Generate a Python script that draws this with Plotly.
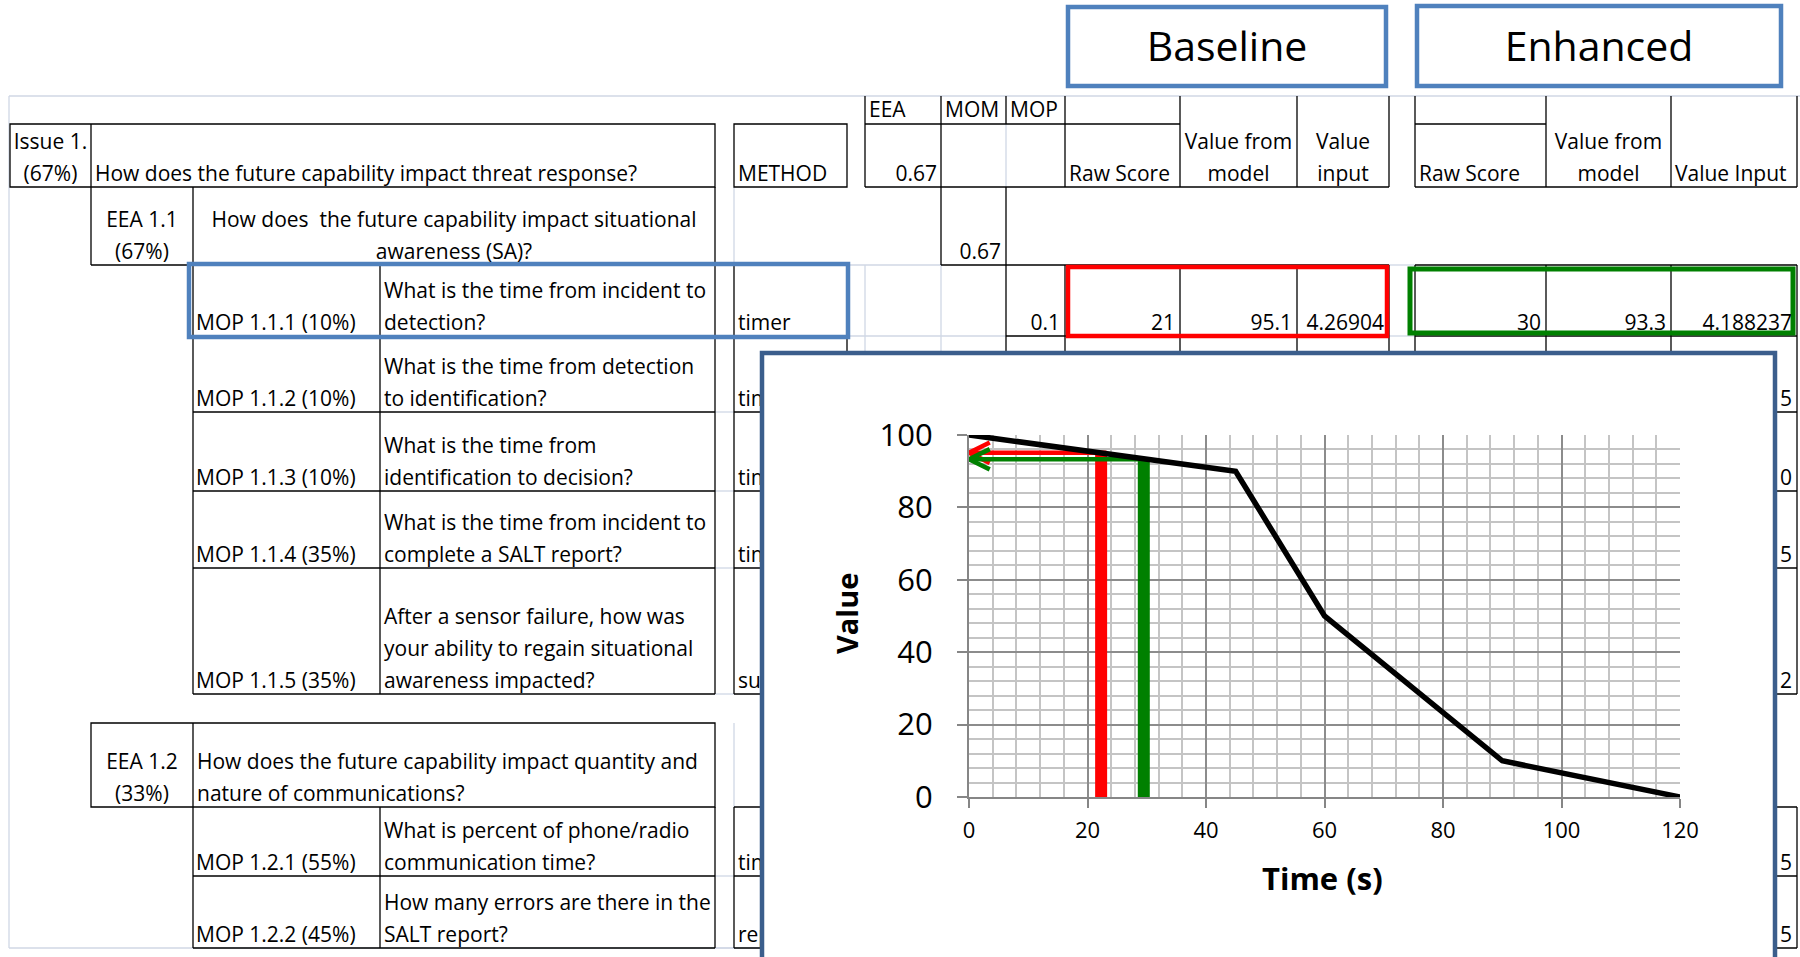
import plotly.graph_objects as go

W, H = 1800, 957

# ---------------- data ----------------
PANEL_TITLES = ["Baseline", "Enhanced"]
ISSUE_LABEL = ["Issue 1.", "(67%)"]
ISSUE_QUESTION = "How does the future capability impact threat response?"
METHOD_HEADER = "METHOD"
EEA_LABELS = [["EEA 1.1", "(67%)"], ["EEA 1.2", "(33%)"]]
EEA_QUESTIONS = [["How does  the future capability impact situational", "awareness (SA)?"],
                 ["How does the future capability impact quantity and", "nature of communications?"]]
MOP_LABELS = ["MOP 1.1.1 (10%)", "MOP 1.1.2 (10%)", "MOP 1.1.3 (10%)", "MOP 1.1.4 (35%)",
              "MOP 1.1.5 (35%)", "MOP 1.2.1 (55%)", "MOP 1.2.2 (45%)"]
MOP_QUESTIONS = [
    ["What is the time from incident to", "detection?"],
    ["What is the time from detection", "to identification?"],
    ["What is the time from", "identification to decision?"],
    ["What is the time from incident to", "complete a SALT report?"],
    ["After a sensor failure, how was", "your ability to regain situational", "awareness impacted?"],
    ["What is percent of phone/radio", "communication time?"],
    ["How many errors are there in the", "SALT report?"],
]
MOP_METHODS = ["timer", "timer", "timer", "timer", "survey", "timer", "report"]
WEIGHT_HEADERS = ["EEA", "MOM", "MOP"]
EEA_WEIGHT = "0.67"
MOM_WEIGHT = "0.67"
MOP_WEIGHT = "0.1"
BASE_HEADERS = [["", "Raw Score"], ["Value from", "model"], ["Value", "input"]]
ENH_HEADERS = [["", "Raw Score"], ["Value from", "model"], ["", "Value Input"]]
BASELINE_ROW = ["21", "95.1", "4.26904"]
ENHANCED_ROW = ["30", "93.3", "4.188237"]
ENHANCED_INPUT_TAILS = ["5", "0", "5", "2", "5", "5"]

TIME_S = [0, 45, 60, 90, 120]
VALUE = [100, 90, 50, 10, 0]
MARKER_TIME = [22.3, 29.5]
MARKER_VALUE = [95.1, 93.3]
MARKER_COLORS = ["#FF0000", "#008000"]
X_TICKS = [0, 20, 40, 60, 80, 100, 120]
Y_TICKS = [0, 20, 40, 60, 80, 100]
X_TITLE = "Time (s)"
Y_TITLE = "Value"

# ---------------- layout geometry (pixels) ----------------
FONT = "Open Sans"
FS = 21
LINE = 32
DARK = "#000000"
LIGHT = "#D0D7E5"
BLUE = "#4F81BD"
INSET_BLUE = "#3B5E8C"

# columns
X_FRAME = 9
X_ISS, X_EEA, X_MOPL, X_Q, X_QR = 10, 91, 193, 380, 715
X_ML, X_MR = 734, 847
X_EEAW, X_MOMW, X_MOPW = 865, 941, 1006
B_COLS = [1065, 1180, 1297, 1389]
E_COLS = [1415, 1546, 1671, 1797]
# rows
Y_TOP, Y_SUB, Y_HDR, Y_EEA1 = 96, 124, 187, 265
MOP_TOPS = [265, 336, 412, 491, 568, 807, 876]
MOP_BOTS = [336, 412, 491, 568, 694, 876, 948]
Y_EEA2_TOP, Y_EEA2_BOT = 723, 807
INSET = dict(x0=762, x1=1775, y0=353)
PLOT = dict(x0=969, x1=1680, y0=435, y1=797)


def line_ys(bottom, n):
    return [bottom - 11.5 - LINE * (n - 1 - i) for i in range(n)]


shapes = []


def seg(x0, y0, x1, y1, color=DARK, width=1.3):
    shapes.append(dict(type="line", xref="x", yref="y", layer="below",
                       x0=x0, y0=y0, x1=x1, y1=y1, line=dict(color=color, width=width)))


def box(x0, y0, x1, y1, color=DARK, width=1.3):
    shapes.append(dict(type="rect", xref="x", yref="y", layer="below",
                       x0=x0, y0=y0, x1=x1, y1=y1, line=dict(color=color, width=width),
                       fillcolor="rgba(0,0,0,0)"))


# light spreadsheet gridlines
seg(X_FRAME, Y_TOP, W, Y_TOP, LIGHT)
seg(X_FRAME, Y_TOP, X_FRAME, 948, LIGHT)
seg(X_FRAME, 948, 760, 948, LIGHT)
seg(X_ML, Y_HDR, X_ML, Y_EEA1, LIGHT)
seg(X_ML, Y_EEA2_TOP, X_ML, Y_EEA2_BOT, LIGHT)
for yb in MOP_BOTS + [Y_EEA1]:
    seg(X_QR, yb, X_ML, yb, LIGHT)
seg(X_EEAW, Y_EEA1, X_EEAW, INSET["y0"], LIGHT)
seg(X_MOMW, Y_EEA1, X_MOMW, INSET["y0"], LIGHT)
seg(X_MR, Y_EEA1, X_MOMW, Y_EEA1, LIGHT)
seg(X_MR, MOP_BOTS[0], X_MOPW, MOP_BOTS[0], LIGHT)
seg(X_MOPW, Y_SUB, X_MOPW, Y_HDR, LIGHT)
seg(B_COLS[-1], Y_EEA1, E_COLS[0], Y_EEA1, LIGHT)
seg(B_COLS[-1], MOP_BOTS[0], E_COLS[0], MOP_BOTS[0], LIGHT)

# left block borders
box(X_ISS, Y_SUB, X_QR, Y_HDR)
seg(X_EEA, Y_SUB, X_EEA, Y_EEA1)
seg(X_EEA, Y_EEA1, X_QR, Y_EEA1)
seg(X_MOPL, Y_HDR, X_MOPL, MOP_BOTS[4])
seg(X_QR, Y_HDR, X_QR, MOP_BOTS[4])
seg(X_Q, MOP_TOPS[0], X_Q, MOP_BOTS[4])
for yb in MOP_BOTS[:5]:
    seg(X_MOPL, yb, X_QR, yb)
box(X_EEA, Y_EEA2_TOP, X_QR, Y_EEA2_BOT)
seg(X_MOPL, Y_EEA2_TOP, X_MOPL, MOP_BOTS[6])
seg(X_QR, Y_EEA2_BOT, X_QR, MOP_BOTS[6])
seg(X_Q, MOP_TOPS[5], X_Q, MOP_BOTS[6])
for yb in MOP_BOTS[5:]:
    seg(X_MOPL, yb, X_QR, yb)

# method column
box(X_ML, Y_SUB, X_MR, Y_HDR)
for (ya, yb) in [(MOP_TOPS[0], MOP_BOTS[4]), (MOP_TOPS[5], MOP_BOTS[6])]:
    seg(X_ML, ya, X_ML, yb)
    seg(X_MR, ya, X_MR, yb)
for yb in [MOP_TOPS[0]] + MOP_BOTS[:5] + [MOP_TOPS[5]] + MOP_BOTS[5:]:
    seg(X_ML, yb, X_MR, yb)

# weights + score blocks
seg(X_EEAW, Y_TOP, X_EEAW, Y_HDR)
seg(X_MOMW, Y_TOP, X_MOMW, Y_EEA1)
seg(X_MOPW, Y_TOP, X_MOPW, Y_SUB)
seg(X_MOPW, Y_HDR, X_MOPW, Y_EEA1)
seg(X_EEAW, Y_SUB, B_COLS[1], Y_SUB)
seg(X_EEAW, Y_HDR, B_COLS[-1], Y_HDR)
seg(X_MOMW, Y_EEA1, X_MOPW, Y_EEA1)
seg(E_COLS[0], Y_SUB, E_COLS[1], Y_SUB)
seg(E_COLS[0], Y_HDR, E_COLS[-1], Y_HDR)
right_cols = [X_MOPW] + B_COLS
for cols in (right_cols, E_COLS):
    for xc in cols:
        if xc != X_MOPW:
            seg(xc, Y_TOP, xc, Y_HDR)
        seg(xc, MOP_TOPS[0], xc, MOP_BOTS[4])
        seg(xc, MOP_TOPS[5], xc, MOP_BOTS[6])
    for yb in [MOP_TOPS[0]] + MOP_BOTS[:5] + [MOP_TOPS[5]] + MOP_BOTS[5:]:
        seg(cols[0], yb, cols[-1], yb)

# highlight boxes
box(189, 264, 848, 337, BLUE, 4.5)
box(1068, 267, 1387, 336, "#FF0000", 4.5)
box(1410, 269, 1793, 333, "#008000", 5)
box(1068, 7, 1386, 86, BLUE, 4.5)
box(1417, 6, 1781, 86, BLUE, 4.5)

# inset frame (on top of everything)
shapes.append(dict(type="rect", xref="paper", yref="paper", layer="above",
                   x0=INSET["x0"] / W, x1=INSET["x1"] / W, y0=-0.05, y1=1 - INSET["y0"] / H,
                   line=dict(color=INSET_BLUE, width=4.5), fillcolor="rgba(0,0,0,0)"))

# ---------------- table text ----------------
txt = {"middle right": ([], [], []), "middle left": ([], [], []), "middle center": ([], [], [])}


def put(pos, x, y, s):
    if s:
        txt[pos][0].append(x)
        txt[pos][1].append(y)
        txt[pos][2].append(s)


for s, y in zip(ISSUE_LABEL, line_ys(Y_HDR, 2)):
    put("middle center", (X_ISS + X_EEA) / 2, y, s)
put("middle right", X_EEA + 4, line_ys(Y_HDR, 1)[0], ISSUE_QUESTION)
put("middle right", X_ML + 4, line_ys(Y_HDR, 1)[0], METHOD_HEADER)

eea_rows = [(Y_HDR, Y_EEA1), (Y_EEA2_TOP, Y_EEA2_BOT)]
for k, (lab, q) in enumerate(zip(EEA_LABELS, EEA_QUESTIONS)):
    bot = eea_rows[k][1]
    for s, y in zip(lab, line_ys(bot, len(lab))):
        put("middle center", (X_EEA + X_MOPL) / 2, y, s)
    for s, y in zip(q, line_ys(bot, len(q))):
        if k == 0:
            put("middle center", (X_MOPL + X_QR) / 2, y, s)
        else:
            put("middle right", X_MOPL + 4, y, s)

for lab, q, m, bot in zip(MOP_LABELS, MOP_QUESTIONS, MOP_METHODS, MOP_BOTS):
    put("middle right", X_MOPL + 3, line_ys(bot, 1)[0], lab)
    for s, y in zip(q, line_ys(bot, len(q))):
        put("middle right", X_Q + 4, y, s)
    put("middle right", X_ML + 4, line_ys(bot, 1)[0], m)

for s, xl in zip(WEIGHT_HEADERS, [X_EEAW, X_MOMW, X_MOPW]):
    put("middle right", xl + 4, (Y_TOP + Y_SUB) / 2 + 2, s)
put("middle left", X_MOMW - 4, line_ys(Y_HDR, 1)[0], EEA_WEIGHT)
put("middle left", X_MOPW - 5, line_ys(Y_EEA1, 1)[0], MOM_WEIGHT)
put("middle left", B_COLS[0] - 5, line_ys(MOP_BOTS[0], 1)[0], MOP_WEIGHT)

for heads, cols in [(BASE_HEADERS, B_COLS), (ENH_HEADERS, E_COLS)]:
    for j, hd in enumerate(heads):
        ys = line_ys(Y_HDR, 2)
        if j == 1 or (j == 2 and hd[0]):
            for s, y in zip(hd, ys):
                put("middle center", (cols[j] + cols[j + 1]) / 2, y, s)
        else:
            put("middle right", cols[j] + 4, ys[1], hd[1])

for row, cols in [(BASELINE_ROW, B_COLS), (ENHANCED_ROW, E_COLS)]:
    for j, s in enumerate(row):
        put("middle left", cols[j + 1] - 5, line_ys(MOP_BOTS[0], 1)[0], s)
for s, bot in zip(ENHANCED_INPUT_TAILS, MOP_BOTS[1:]):
    put("middle left", E_COLS[-1] - 5, line_ys(bot, 1)[0], s)

fig = go.Figure()
for pos, (xs, ys, ss) in txt.items():
    fig.add_trace(go.Scatter(x=xs, y=ys, text=ss, mode="text", textposition=pos,
                             textfont=dict(family=FONT, size=FS, color="#000000"),
                             hoverinfo="skip", showlegend=False, xaxis="x", yaxis="y"))

# panel titles
fig.add_trace(go.Scatter(x=[(1068 + 1386) / 2, (1417 + 1781) / 2], y=[51, 51], text=PANEL_TITLES,
                         mode="text", textposition="middle center",
                         textfont=dict(family=FONT, size=41, color="#000000"),
                         hoverinfo="skip", showlegend=False, xaxis="x", yaxis="y"))

# inset background subplot (opaque, covers the table below it)
fig.add_trace(go.Scatter(x=[None], y=[None], mode="lines", xaxis="x2", yaxis="y2",
                         showlegend=False, hoverinfo="skip"))

# ---------------- chart ----------------
for t, v, c in zip(MARKER_TIME, MARKER_VALUE, MARKER_COLORS):
    fig.add_trace(go.Scatter(x=[t, t], y=[0, v], mode="lines", line=dict(color=c, width=12),
                             xaxis="x3", yaxis="y3", showlegend=False, hoverinfo="skip"))
    hx, hy = 3.5, 2.8
    fig.add_trace(go.Scatter(x=[t + 0.9, 0, None, hx, 0, hx], y=[v, v, None, v + hy, v, v - hy],
                             mode="lines", line=dict(color=c, width=4.5),
                             xaxis="x3", yaxis="y3", showlegend=False, hoverinfo="skip",
                             cliponaxis=False))
fig.add_trace(go.Scatter(x=TIME_S, y=VALUE, mode="lines", line=dict(color="#000000", width=5.5),
                         xaxis="x3", yaxis="y3", showlegend=False, hoverinfo="skip",
                         cliponaxis=False))

hidden = dict(visible=False, showgrid=False, zeroline=False, automargin=False)
fig.update_layout(
    width=W, height=H, margin=dict(l=0, r=0, t=0, b=0, pad=0, autoexpand=False),
    paper_bgcolor="white", plot_bgcolor="white",
    xaxis=dict(domain=[0, 1], range=[0, W], anchor="y", **hidden),
    yaxis=dict(domain=[0, 1], range=[H, 0], anchor="x", **hidden),
    xaxis2=dict(domain=[(INSET["x0"] + 2) / W, (INSET["x1"] - 2) / W], range=[0, 1], anchor="y2", **hidden),
    yaxis2=dict(domain=[0, 1 - (INSET["y0"] + 2) / H], range=[0, 1], anchor="x2", **hidden),
    xaxis3=dict(domain=[PLOT["x0"] / W, PLOT["x1"] / W], range=[0, 120], anchor="y3", automargin=False,
                tickvals=X_TICKS, showgrid=True, gridcolor="#8C8C8C", gridwidth=1.5,
                minor=dict(dtick=4, tick0=0, showgrid=True, gridcolor="#C4C4C4", gridwidth=1.5),
                showline=True, linecolor="#868686", linewidth=2, zeroline=False,
                ticks="outside", ticklen=9, tickwidth=2, tickcolor="#868686",
                tickfont=dict(family=FONT, size=22, color="#000000"), ticklabelstandoff=4),
    yaxis3=dict(domain=[1 - PLOT["y1"] / H, 1 - PLOT["y0"] / H], range=[0, 100], anchor="x3", automargin=False,
                tickvals=Y_TICKS, showgrid=True, gridcolor="#8C8C8C", gridwidth=1.5,
                minor=dict(dtick=4, tick0=0, showgrid=True, gridcolor="#C4C4C4", gridwidth=1.5),
                showline=True, linecolor="#868686", linewidth=2, zeroline=False,
                ticks="outside", ticklen=10, tickwidth=2, tickcolor="#868686",
                tickfont=dict(family=FONT, size=31, color="#000000"), ticklabelstandoff=18),
    shapes=shapes,
    annotations=[
        dict(text=Y_TITLE, xref="paper", yref="paper", x=846 / W, y=1 - 614 / H, showarrow=False,
             textangle=-90, font=dict(family=FONT, size=29, color="#000000", weight="bold"),
             xanchor="center", yanchor="middle"),
        dict(text=X_TITLE, xref="paper", yref="paper", x=1322 / W, y=1 - 878 / H, showarrow=False,
             font=dict(family=FONT, size=31, color="#000000", weight="bold"),
             xanchor="center", yanchor="middle"),
    ],
)

fig.write_html("out.html")
